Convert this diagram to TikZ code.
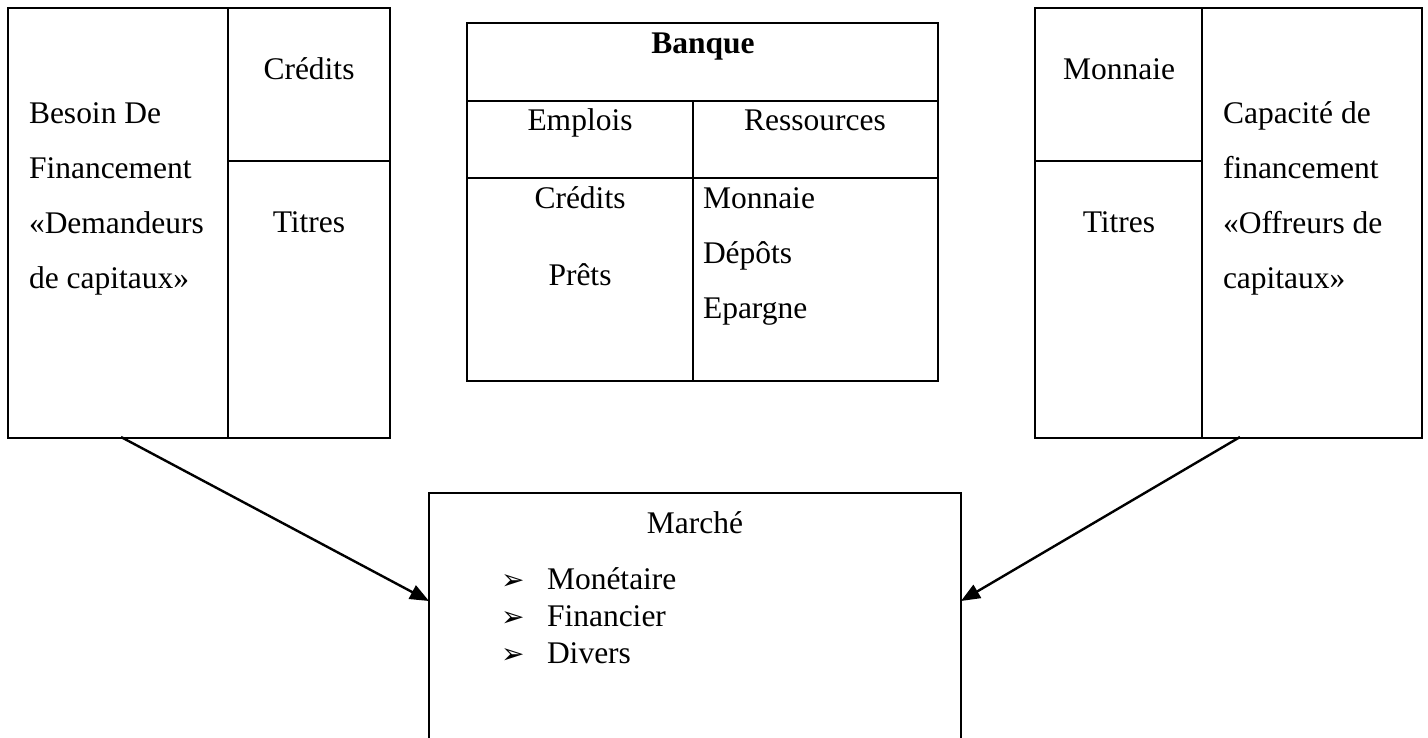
\documentclass[tikz,border=0pt]{standalone}
\usepackage{fontspec}
\setmainfont{Liberation Serif}
\newfontfamily\symfont{DejaVu Sans}
\usetikzlibrary{arrows.meta}
\begin{document}
\begin{tikzpicture}[x=1pt,y=-1pt,
  every node/.style={font=\fontsize{31.5}{36}\selectfont, inner sep=0pt, outer sep=0pt},
  frame/.style={draw, line width=2.4pt, anchor=north west},
  rule/.style={line width=2.4pt},
  ctext/.style={anchor=base},
  ltext/.style={anchor=base west},
  bul/.style={anchor=base west, font=\symfont\fontsize{28}{30}\selectfont},
  flow/.style={line width=2.4pt, -{Triangle[length=19pt,width=15pt]}}]
\path[use as bounding box] (0,0) rectangle (1428,738);
% left box
\node[frame, minimum width=382pt, minimum height=430pt] (L) at (8,8) {};
\draw[rule] (228,8) -- (228,438);
\draw[rule] (228,161) -- (390,161);
\node[ctext] (lcr) at (309,80) {Crédits};
\node[ctext] (lti) at (309,233) {Titres};
\node[ltext] (l1) at (29,124) {Besoin De};
\node[ltext] (l2) at (29,179) {Financement};
\node[ltext] (l3) at (29,234) {«Demandeurs};
\node[ltext] (l4) at (29,289) {de capitaux»};
% middle box
\node[frame, minimum width=471pt, minimum height=358pt] (B) at (467,23) {};
\draw[rule] (467,101) -- (938,101);
\draw[rule] (467,178) -- (938,178);
\draw[rule] (693,101) -- (693,381);
\node[ctext, font=\bfseries\fontsize{31.5}{36}\selectfont] (bq) at (703,54) {Banque};
\node[ctext] (em) at (580,131) {Emplois};
\node[ctext] (rs) at (815,131) {Ressources};
\node[ctext] (bcr) at (580,209) {Crédits};
\node[ctext] (bpr) at (580,286) {Prêts};
\node[ltext] (bmo) at (703,209) {Monnaie};
\node[ltext] (bde) at (703,264) {Dépôts};
\node[ltext] (bep) at (703,319) {Epargne};
% right box
\node[frame, minimum width=387pt, minimum height=430pt] (R) at (1035,8) {};
\draw[rule] (1202,8) -- (1202,438);
\draw[rule] (1035,161) -- (1202,161);
\node[ctext] (rmo) at (1119,80) {Monnaie};
\node[ctext] (rti) at (1119,233) {Titres};
\node[ltext] (r1) at (1223,124) {Capacité de};
\node[ltext] (r2) at (1223,179) {financement};
\node[ltext] (r3) at (1223,234) {«Offreurs de};
\node[ltext] (r4) at (1223,289) {capitaux»};
% bottom box (cut at the bottom edge)
\node[anchor=north west, minimum width=532pt, minimum height=246pt] (M) at (429,493) {};
\draw[rule] (M.south west) -- (M.north west) -- (M.north east) -- (M.south east);
\node[ctext] (mt) at (695,533) {Marché};
\node[bul] (b1) at (501,589) {➢};
\node[bul] (b2) at (501,626) {➢};
\node[bul] (b3) at (501,663) {➢};
\node[ltext] (m1) at (547,589) {Monétaire};
\node[ltext] (m2) at (547,626) {Financier};
\node[ltext] (m3) at (547,663) {Divers};
% connectors
\coordinate (s1) at (121,437);
\coordinate (e1) at (429,601);
\coordinate (s2) at (1240,437);
\coordinate (e2) at (961,601);
\draw[flow] (s1) -- (e1);
\draw[flow] (s2) -- (e2);
\end{tikzpicture}
\end{document}
